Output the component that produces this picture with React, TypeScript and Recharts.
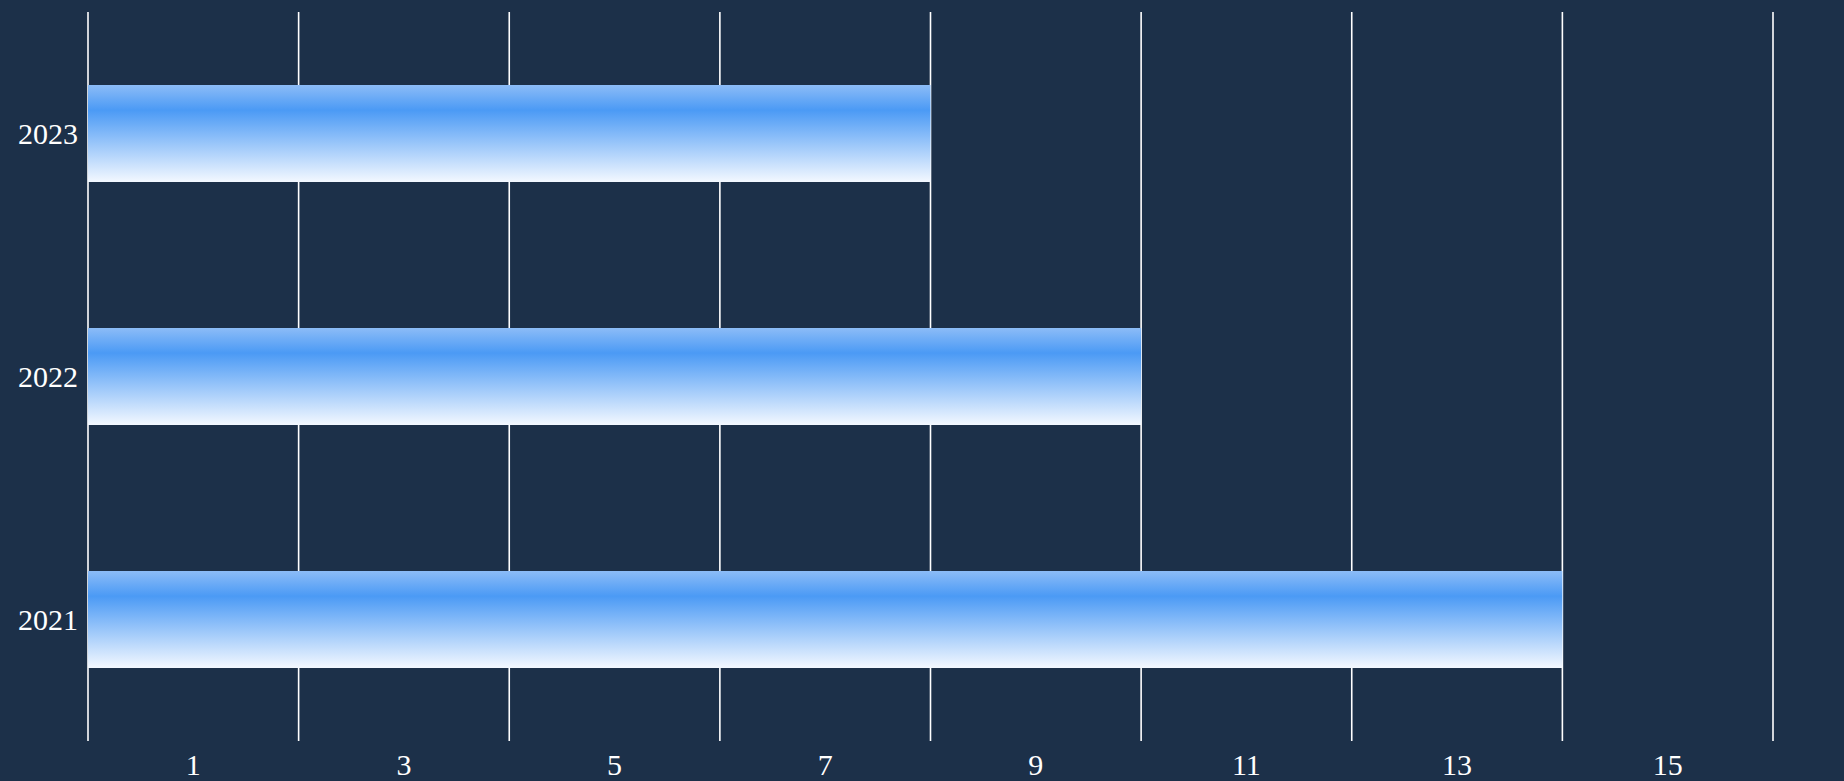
import React from "react";
import { BarChart, Bar, XAxis, YAxis, CartesianGrid } from "recharts";

const years = ["2021", "2022", "2023"];
const values = [14, 10, 8];
const labelTicks = [1, 3, 5, 7, 9, 11, 13, 15];
const gridTicks = [0, 2, 4, 6, 8, 10, 12, 14, 16];

const data = years.map((y, i) => ({ year: y, value: values[i] }));

const BG = "#1c3049";
const FONT = "'Liberation Serif', 'Times New Roman', serif";

const gridGen = (props: any) => {
  const xAxis = props && props.xAxis;
  if (xAxis && typeof xAxis.scale === "function") {
    return gridTicks.map((t) => xAxis.scale(t));
  }
  const off = props.offset;
  return gridTicks.map((t) => off.left + (t / 16) * off.width);
};

const XTick = (props: any) => {
  const { x, y, payload } = props;
  return (
    <text
      x={x}
      y={y}
      dy="0.71em"
      textAnchor="middle"
      fill="#ffffff"
      style={{ fontFamily: FONT, fontSize: 30 }}
    >
      {payload.value}
    </text>
  );
};

const YTick = (props: any) => {
  const { x, y, payload } = props;
  return (
    <text
      x={x}
      y={y}
      dy="0.355em"
      textAnchor="end"
      fill="#ffffff"
      style={{ fontFamily: FONT, fontSize: 30 }}
    >
      {payload.value}
    </text>
  );
};

export default function App() {
  return (
    <div
      style={{
        position: "absolute",
        left: 0,
        top: 0,
        width: 1844,
        height: 781,
        background: BG,
        overflow: "hidden",
        fontFamily: FONT,
      }}
    >
      <BarChart
        width={1844}
        height={781}
        data={data}
        layout="vertical"
        margin={{ top: 12, right: 71, bottom: 0, left: 0 }}
        barCategoryGap="30%"
      >
        <defs>
          <linearGradient id="barGrad" x1="0" y1="0" x2="0" y2="1">
            <stop offset="0%" stopColor="#8cbcf7" />
            <stop offset="26%" stopColor="#4b9af5" />
            <stop offset="100%" stopColor="#f3f8ff" />
          </linearGradient>
        </defs>
        <CartesianGrid
          horizontal={false}
          vertical={true}
          verticalCoordinatesGenerator={gridGen}
          stroke="#ffffff"
          strokeWidth={1.6}
        />
        <XAxis
          type="number"
          dataKey="value"
          domain={[0, 16]}
          ticks={labelTicks}
          interval={0}
          axisLine={false}
          tickLine={false}
          tickSize={0}
          tickMargin={13}
          height={40}
          tick={<XTick />}
        />
        <YAxis
          type="category"
          dataKey="year"
          reversed
          width={88}
          axisLine={false}
          tickLine={false}
          tickSize={0}
          tickMargin={10}
          tick={<YTick />}
        />
        <Bar dataKey="value" fill="url(#barGrad)" isAnimationActive={false} />
      </BarChart>
    </div>
  );
}
